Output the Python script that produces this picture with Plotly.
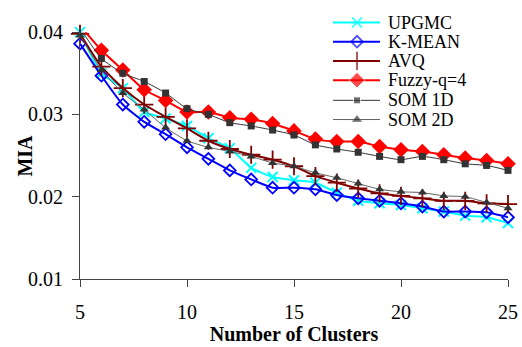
import plotly.graph_objects as go

clusters = list(range(5, 26))

upgmc = [0.0400, 0.0350, 0.0332, 0.0303, 0.0295, 0.0286, 0.0271, 0.0259, 0.0235, 0.0224, 0.0220,
         0.0217, 0.0205, 0.0195, 0.0192, 0.0190, 0.0186, 0.0182, 0.0177, 0.0175, 0.0168]
kmean = [0.0386, 0.0347, 0.0312, 0.0291, 0.0276, 0.0260, 0.0246, 0.0232, 0.0221, 0.0211, 0.0211,
         0.0209, 0.0202, 0.0198, 0.0195, 0.0192, 0.0188, 0.0182, 0.0182, 0.0181, 0.0175]
avq = [0.0398, 0.0358, 0.0332, 0.0312, 0.0297, 0.0283, 0.0268, 0.0258, 0.0251, 0.0245, 0.0237,
       0.0225, 0.0217, 0.0210, 0.0204, 0.0201, 0.0198, 0.0195, 0.0195, 0.0192, 0.0191]
fuzzy = [0.0408, 0.0378, 0.0354, 0.0330, 0.0317, 0.0303, 0.0303, 0.0296, 0.0294, 0.0289, 0.0280,
         0.0270, 0.0267, 0.0267, 0.0261, 0.0257, 0.0255, 0.0251, 0.0247, 0.0244, 0.0240]
som1d = [0.0405, 0.0368, 0.0350, 0.0340, 0.0326, 0.0307, 0.0300, 0.0290, 0.0286, 0.0281, 0.0275,
         0.0263, 0.0258, 0.0254, 0.0249, 0.0245, 0.0249, 0.0245, 0.0240, 0.0238, 0.0232]
som2d = [0.0396, 0.0354, 0.0326, 0.0306, 0.0284, 0.0268, 0.0260, 0.0255, 0.0249, 0.0241, 0.0237,
         0.0229, 0.0223, 0.0216, 0.0209, 0.0206, 0.0205, 0.0201, 0.0200, 0.0193, 0.0186]

series_names = ["UPGMC", "K-MEAN", "AVQ", "Fuzzy-q=4", "SOM 1D", "SOM 2D"]
x_ticks = [5, 10, 15, 20, 25]
y_ticks = [0.01, 0.02, 0.03, 0.04]
y_tick_labels = ["0.01", "0.02", "0.03", "0.04"]

# styles: (line colour, line width, marker dict)
styles = [
    ("#00FFFF", 2, dict(symbol="x-thin", size=10, line=dict(color="#00FFFF", width=2))),
    ("#0000FF", 2, dict(symbol="diamond-open", size=9, color="#0000FF", line=dict(width=1.8))),
    ("#800000", 2, dict(symbol="cross-thin", size=13, line=dict(color="#800000", width=1.8))),
    ("#FF0000", 2, dict(symbol="diamond", size=12, color="#FF0000")),
    ("#333333", 1, dict(symbol="square", size=7, color="#333333")),
    ("#606060", 1, dict(symbol="triangle-up", size=8, color="#333333")),
]
all_vals = [upgmc, kmean, avq, fuzzy, som1d, som2d]

FONT = "Liberation Serif"
W, H = 522, 347
ML, MR, MB = 80, 14, 68
PLOT_TOP = 22  # pixel y of the top of the axis area

fig = go.Figure()
for name, vals, (color, w, mk) in zip(series_names, all_vals, styles):
    fig.add_trace(go.Scatter(x=clusters, y=vals, name=name, mode="lines+markers",
                             line=dict(color=color, width=w, shape="spline", smoothing=0.5),
                             marker=mk, cliponaxis=False, showlegend=False))

# hand-built legend on a pixel-coordinate overlay subplot (x2/y2)
leg_x0, leg_x1, leg_xm, leg_tx = 333, 380, 357, 387
leg_rows = [12, 32, 52, 72, 93, 113]
for name, row, (color, w, mk) in zip(series_names, leg_rows, styles):
    mk2 = dict(mk)
    mk2["size"] = [0, mk["size"], 0]
    fig.add_trace(go.Scatter(x=[leg_x0, leg_xm, leg_x1], y=[row, row, row], mode="lines+markers",
                             line=dict(color=color, width=w), marker=mk2, showlegend=False,
                             xaxis="x2", yaxis="y2", hoverinfo="skip", cliponaxis=False))
    fig.add_annotation(x=leg_tx, y=row, xref="x2", yref="y2", text=name, showarrow=False,
                       xanchor="left", yanchor="middle", borderpad=0,
                       font=dict(family=FONT, size=18, color="black"))

plot_h = H - MB
fig.add_annotation(x=-55 / (W - ML - MR), y=0.5, xref="paper", yref="y domain", text="<b>MIA</b>",
                   textangle=-90, showarrow=False, xanchor="center", yanchor="middle",
                   font=dict(family=FONT, size=20, color="black"))

axis_common = dict(showgrid=False, zeroline=False, showline=True, linecolor="#444", linewidth=1,
                   ticks="outside", ticklen=7, tickcolor="#444",
                   tickfont=dict(family=FONT, size=20, color="black"))
fig.update_layout(
    width=W, height=H,
    margin=dict(l=ML, r=MR, t=0, b=MB),
    paper_bgcolor="white", plot_bgcolor="rgba(0,0,0,0)",
    font=dict(family=FONT, size=20, color="black"),
    showlegend=False,
    xaxis=dict(range=[5, 25], tickvals=x_ticks, ticklabelstandoff=8,
               title=dict(text="<b>Number of Clusters</b>", font=dict(family=FONT, size=20), standoff=0),
               **axis_common),
    yaxis=dict(range=[0.01, 0.04], tickvals=y_ticks, ticktext=y_tick_labels,
               domain=[0, (plot_h - PLOT_TOP) / plot_h], ticklabelstandoff=5, **axis_common),
    xaxis2=dict(domain=[0, 1], range=[ML, W - MR], visible=False, anchor="y2", fixedrange=True),
    yaxis2=dict(domain=[0, 1], range=[plot_h, 0], visible=False, anchor="x2", fixedrange=True),
)

fig.write_html("out.html")
